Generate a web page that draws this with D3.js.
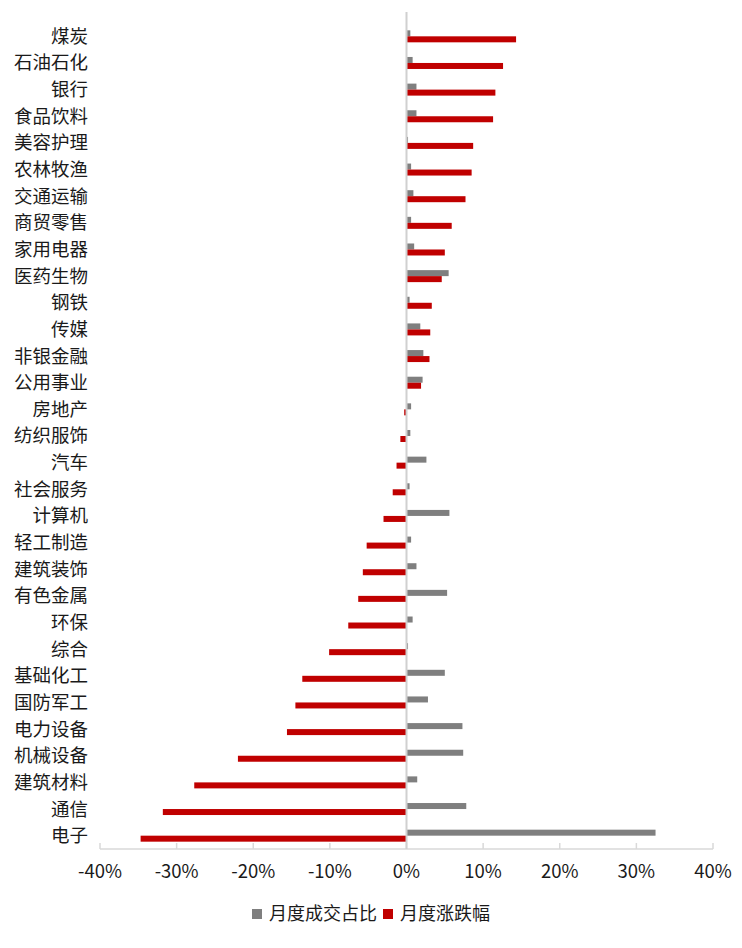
<!DOCTYPE html>
<html>
<head>
<meta charset="utf-8">
<script src="https://cdn.jsdelivr.net/npm/d3@7"></script>
<style>
  body { margin: 0; background: #fff; }
  text { font-family: "Noto Sans CJK SC", "Noto Sans", sans-serif; fill: #1a1a1a; }
</style>
</head>
<body>
<svg width="742" height="948"></svg>
<script>
// categories, top to bottom
var categories = ["煤炭", "石油石化", "银行", "食品饮料", "美容护理", "农林牧渔", "交通运输", "商贸零售",
  "家用电器", "医药生物", "钢铁", "传媒", "非银金融", "公用事业", "房地产", "纺织服饰", "汽车",
  "社会服务", "计算机", "轻工制造", "建筑装饰", "有色金属", "环保", "综合", "基础化工", "国防军工",
  "电力设备", "机械设备", "建筑材料", "通信", "电子"];

// 月度成交占比 (%)
var share = [0.5, 0.8, 1.3, 1.3, 0.2, 0.6, 0.9, 0.6, 1.0, 5.5, 0.4, 1.8, 2.2, 2.1, 0.6, 0.5, 2.6,
  0.4, 5.6, 0.6, 1.3, 5.3, 0.8, 0.2, 5.0, 2.8, 7.3, 7.4, 1.4, 7.8, 32.5];

// 月度涨跌幅 (%)
var change = [14.3, 12.6, 11.6, 11.3, 8.7, 8.5, 7.7, 5.9, 5.0, 4.6, 3.3, 3.1, 3.0, 1.9, -0.3, -0.8, -1.3,
  -1.8, -3.0, -5.2, -5.7, -6.3, -7.6, -10.1, -13.6, -14.5, -15.6, -22.0, -27.7, -31.8, -34.7];

var seriesNames = ["月度成交占比", "月度涨跌幅"];
var seriesColors = ["#7f7f7f", "#c00000"];
var xTicks = [-40, -30, -20, -10, 0, 10, 20, 30, 40];

var svg = d3.select("svg");
var plotLeft = 100, plotRight = 713, plotTop = 23, plotBottom = 849;

var x = d3.scaleLinear().domain([-40, 40]).range([plotLeft, plotRight]);
var y = d3.scaleBand().domain(categories).range([plotTop, plotBottom]);
var barH = 6;

var rows = categories.map(function(c, i) {
  return { name: c, values: [share[i], change[i]] };
});

// x axis line and ticks
svg.append("line")
  .attr("x1", plotLeft).attr("x2", plotRight)
  .attr("y1", plotBottom).attr("y2", plotBottom)
  .attr("stroke", "#d9d9d9").attr("stroke-width", 1.5);

svg.selectAll(".tick")
  .data(xTicks)
  .enter().append("line")
  .attr("class", "tick")
  .attr("x1", function(d) { return x(d); })
  .attr("x2", function(d) { return x(d); })
  .attr("y1", plotBottom - 6).attr("y2", plotBottom)
  .attr("stroke", "#d9d9d9").attr("stroke-width", 1.5);

svg.selectAll(".tickLabel")
  .data(xTicks)
  .enter().append("text")
  .attr("class", "tickLabel")
  .attr("x", function(d) { return x(d); })
  .attr("y", plotBottom + 29)
  .attr("text-anchor", "middle")
  .style("font-size", "18.5px")
  .text(function(d) { return d + "%"; });

// bars
var row = svg.selectAll(".row")
  .data(rows)
  .enter().append("g")
  .attr("class", "row")
  .attr("transform", function(d) { return "translate(0," + (y(d.name) + y.bandwidth() / 2) + ")"; });

row.selectAll("rect")
  .data(function(d) { return d.values; })
  .enter().append("rect")
  .attr("x", function(v) { return x(Math.min(0, v)); })
  .attr("width", function(v) { return Math.abs(x(v) - x(0)); })
  .attr("y", function(v, j) { return j === 0 ? -barH : 0; })
  .attr("height", barH)
  .attr("fill", function(v, j) { return seriesColors[j]; });

// zero line
svg.append("line")
  .attr("x1", x(0)).attr("x2", x(0))
  .attr("y1", plotTop - 11).attr("y2", plotBottom)
  .attr("stroke", "#d0d0d0").attr("stroke-width", 2);

// category labels
row.append("text")
  .attr("x", 88)
  .attr("dy", "0.35em")
  .attr("text-anchor", "end")
  .style("font-size", "18.5px")
  .text(function(d) { return d.name; });

// legend
var legend = svg.append("g").attr("transform", "translate(252,914)");
var lx = [0, 131];
seriesNames.forEach(function(name, i) {
  legend.append("rect")
    .attr("x", lx[i]).attr("y", -5)
    .attr("width", 10).attr("height", 10)
    .attr("fill", seriesColors[i]);
  legend.append("text")
    .attr("x", lx[i] + 17).attr("dy", "0.35em")
    .style("font-size", "18px")
    .text(name);
});
</script>
</body>
</html>
